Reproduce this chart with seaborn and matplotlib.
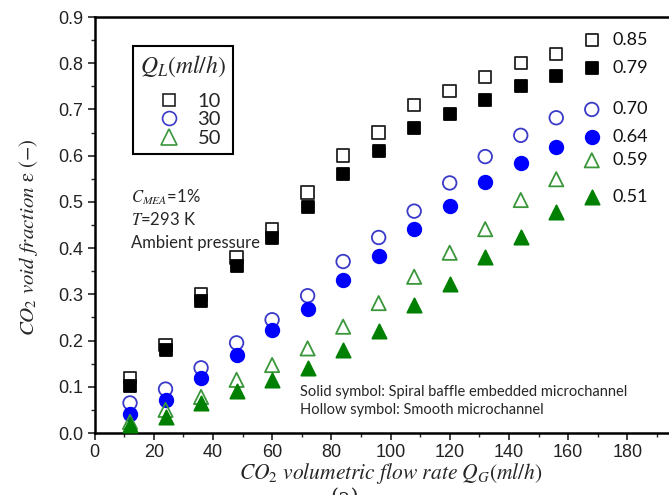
import matplotlib
matplotlib.use("Agg")
import matplotlib.pyplot as plt
import seaborn as sns
import pandas as pd
from matplotlib.lines import Line2D
from matplotlib.ticker import MultipleLocator, FormatStrFormatter

# CO2 volumetric flow rate Q_G (ml/h)
qg = [12, 24, 36, 48, 60, 72, 84, 96, 108, 120, 132, 144, 156]

# Void fraction, smooth microchannel (hollow) and spiral baffle (solid)
smooth_10 = [0.119, 0.190, 0.300, 0.380, 0.440, 0.520, 0.600, 0.650, 0.710, 0.740, 0.770, 0.800, 0.820]
spiral_10 = [0.102, 0.180, 0.285, 0.361, 0.422, 0.490, 0.560, 0.610, 0.660, 0.690, 0.720, 0.750, 0.772]
smooth_30 = [0.065, 0.095, 0.141, 0.195, 0.245, 0.297, 0.371, 0.423, 0.480, 0.541, 0.598, 0.644, 0.682]
spiral_30 = [0.041, 0.071, 0.119, 0.169, 0.223, 0.268, 0.331, 0.384, 0.441, 0.492, 0.544, 0.585, 0.619]
smooth_50 = [0.024, 0.050, 0.078, 0.115, 0.147, 0.183, 0.230, 0.281, 0.338, 0.390, 0.441, 0.504, 0.549]
spiral_50 = [0.017, 0.035, 0.065, 0.091, 0.115, 0.140, 0.180, 0.221, 0.277, 0.322, 0.381, 0.425, 0.479]

# Labelled end-point values shown on the right
end_qg = 168
end_values = [0.85, 0.79, 0.70, 0.64, 0.59, 0.51]

legend_ql = ["10", "30", "50"]
x_tick_labels = [0, 20, 40, 60, 80, 100, 120, 140, 160, 180]

sns.set_style("ticks")
plt.rcParams["mathtext.fontset"] = "stix"
plt.rcParams["font.family"] = ["Liberation Sans", "DejaVu Sans"]

BLUE = "#0000ff"
BLUE_EDGE = "#3a3ac8"
GREEN = "#008000"
GREEN_EDGE = "#3a963a"

series = [
    (smooth_10, "s", "none", "#222222", 80),
    (spiral_10, "s", "black", "black", 80),
    (smooth_30, "o", "none", BLUE_EDGE, 95),
    (spiral_30, "o", BLUE, BLUE, 95),
    (smooth_50, "^", "none", GREEN_EDGE, 105),
    (spiral_50, "^", GREEN, GREEN, 105),
]

fig = plt.figure(figsize=(6.69, 4.95), dpi=100)
ax = fig.add_axes([94.5 / 669, 62 / 495, 592 / 669, 416 / 495])

for (vals, mk, fc, ec, sz), end_v in zip(series, end_values):
    df = pd.DataFrame({"qg": qg + [end_qg], "eps": vals + [end_v]})
    sns.scatterplot(data=df, x="qg", y="eps", marker=mk, s=sz,
                    facecolor=fc, edgecolor=ec, linewidth=1.3, ax=ax,
                    legend=False, zorder=3)
    ax.annotate(f"{end_v:.2f}", (end_qg, end_v), xytext=(15, 0),
                textcoords="offset points", va="center", ha="left",
                fontsize=13, family="Lato", color="#111111")

ax.set_xlim(0, 200)
ax.set_ylim(0, 0.9)
ax.set_xticks(x_tick_labels)
ax.xaxis.set_minor_locator(MultipleLocator(10))
ax.yaxis.set_major_locator(MultipleLocator(0.1))
ax.yaxis.set_minor_locator(MultipleLocator(0.05))
ax.yaxis.set_major_formatter(FormatStrFormatter("%.1f"))
ax.tick_params(which="major", direction="out", length=5, width=1.2,
               labelsize=13, colors="#222222", pad=3)
ax.tick_params(which="minor", direction="out", length=3, width=1.0)
for sp in ax.spines.values():
    sp.set_linewidth(1.8)
    sp.set_color("black")

ax.set_xlabel(r"$CO_2\ volumetric\ flow\ rate\ Q_G(ml/h)$", fontsize=15.5, labelpad=0)
ax.set_ylabel(r"$CO_2\ void\ fraction\ \mathrm{\varepsilon}\ (-)$", fontsize=15)
ax.yaxis.set_label_coords(-0.092, 0.47)

handles = [
    Line2D([], [], ls="", marker="s", mfc="none", mec="#222222", ms=9, mew=1.2),
    Line2D([], [], ls="", marker="o", mfc="none", mec=BLUE_EDGE, ms=10, mew=1.2),
    Line2D([], [], ls="", marker="^", mfc="none", mec=GREEN_EDGE, ms=11, mew=1.2),
]
leg = ax.legend(handles, legend_ql, title=r"$Q_L(ml/h)$", title_fontsize=17,
                loc="upper left", bbox_to_anchor=(0.065, 0.930),
                borderaxespad=0, frameon=True, fancybox=False, framealpha=1,
                edgecolor="black", handlelength=2.4, handletextpad=0.2,
                labelspacing=0.08, borderpad=0.35,
                prop={"family": "Lato", "size": 14.5})
leg.get_frame().set_linewidth(1.5)
# extra gap between the legend title and its entries
leg._legend_box.sep = 10

ax.text(12.3, 0.511, r"$C_{MEA}$=1%", fontsize=12, family="Lato", va="center")
ax.text(12.3, 0.461, r"$T$=293 K", fontsize=12, family="Lato", va="center")
ax.text(12.3, 0.411, "Ambient pressure", fontsize=12, family="Lato", va="center")

ax.text(69.4, 0.089, "Solid symbol: Spiral baffle embedded microchannel",
        fontsize=10.5, family="Lato", va="center")
ax.text(69.4, 0.050, "Hollow symbol: Smooth microchannel",
        fontsize=10.5, family="Lato", va="center")

fig.text(345 / 669, 7 / 495, "(a)", fontsize=15, family="DejaVu Serif",
         ha="center", va="top")

fig.savefig("out.png", dpi=100)
